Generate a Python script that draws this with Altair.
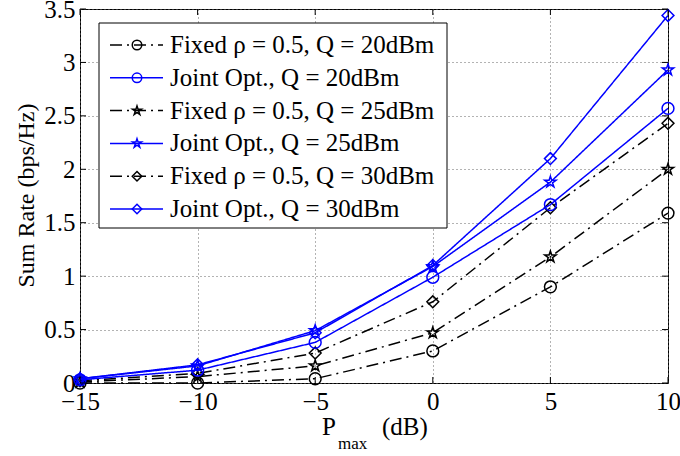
import math
import altair as alt
import pandas as pd

# Transmit power P_max (dB)
p_max = [-15, -10, -5, 0, 5, 10]

# Sum rate (bps/Hz) for each scheme
fixed_q20 = [0.00, 0.00, 0.04, 0.30, 0.90, 1.59]
joint_q20 = [0.03, 0.12, 0.38, 0.99, 1.67, 2.57]
fixed_q25 = [0.01, 0.06, 0.16, 0.47, 1.18, 2.00]
joint_q25 = [0.04, 0.16, 0.49, 1.09, 1.88, 2.93]
fixed_q30 = [0.02, 0.09, 0.28, 0.76, 1.64, 2.43]
joint_q30 = [0.04, 0.17, 0.47, 1.10, 2.10, 3.44]

series_names = [
    "Fixed ρ = 0.5, Q = 20dBm",
    "Joint Opt., Q = 20dBm",
    "Fixed ρ = 0.5, Q = 25dBm",
    "Joint Opt., Q = 25dBm",
    "Fixed ρ = 0.5, Q = 30dBm",
    "Joint Opt., Q = 30dBm",
]
series_values = [fixed_q20, joint_q20, fixed_q25, joint_q25, fixed_q30, joint_q30]
series_kind = ["fixed", "joint", "fixed", "joint", "fixed", "joint"]

x_ticks = [-15, -10, -5, 0, 5, 10]
y_ticks = [0, 0.5, 1, 1.5, 2, 2.5, 3, 3.5]

# five-pointed star as an SVG path in the unit square
star_pts = []
for k in range(10):
    r = 1.0 if k % 2 == 0 else 0.38
    a = math.radians(-90 + 36 * k)
    star_pts.append(f"{r * math.cos(a):.3f},{r * math.sin(a):.3f}")
STAR = "M" + "L".join(star_pts) + "Z"

BLUE = "#0000ff"
BLACK = "#000000"
DASHDOT = [12, 5, 2, 5]
SOLID = [1, 0]
FONT = "Liberation Serif"

colors = [BLACK, BLUE, BLACK, BLUE, BLACK, BLUE]
dashes = [DASHDOT, SOLID, DASHDOT, SOLID, DASHDOT, SOLID]
shapes = ["circle", "circle", STAR, STAR, "diamond", "diamond"]

rows = []
for name, vals, kind in zip(series_names, series_values, series_kind):
    for p, v in zip(p_max, vals):
        rows.append({"P": p, "rate": v, "series": name, "kind": kind})
df = pd.DataFrame(rows)

W, H = 588, 374

axis_common = dict(
    format="~g", labelFont=FONT, labelFontSize=25, labelColor=BLACK,
    labelFlush=False, labelOverlap=False, labelBound=False,
    ticks=False, domain=False,
    grid=True, gridDash=[1, 3], gridColor="#666666", gridWidth=1,
)

x_enc = alt.X(
    "P:Q",
    scale=alt.Scale(domain=[-15, 10], nice=False),
    axis=alt.Axis(values=x_ticks, title=None, labelPadding=6, **axis_common),
)
y_enc = alt.Y(
    "rate:Q",
    scale=alt.Scale(domain=[0, 3.5], nice=False),
    axis=alt.Axis(
        values=y_ticks, labelPadding=5,
        title="Sum Rate (bps/Hz)", titleFont=FONT, titleFontSize=24,
        titleFontWeight="normal", titleColor=BLACK, titleAngle=270,
        titleX=-47, titleY=186, titleAlign="center", titleBaseline="alphabetic",
        **axis_common,
    ),
)
color_enc = alt.Color("series:N", scale=alt.Scale(domain=series_names, range=colors), legend=None)
dash_enc = alt.StrokeDash("series:N", scale=alt.Scale(domain=series_names, range=dashes), legend=None)
shape_enc = alt.Shape("series:N", scale=alt.Scale(domain=series_names, range=shapes), legend=None)


def curves(kind):
    base = alt.Chart(df).transform_filter(alt.datum.kind == kind)
    lines = base.mark_line(strokeWidth=1.5).encode(
        x=x_enc, y=y_enc, color=color_enc, strokeDash=dash_enc, detail="series:N"
    )
    pts = base.mark_point(filled=False, size=140, strokeWidth=1.5, opacity=1).encode(
        x="P:Q", y="rate:Q", color=color_enc, shape=shape_enc
    )
    return lines + pts


# inward tick marks on all four sides of the box
xt = pd.DataFrame({"P": x_ticks})
yt = pd.DataFrame({"rate": y_ticks})
tick_style = dict(color=BLACK, strokeWidth=1)
ticks = (
    alt.Chart(xt).mark_rule(**tick_style).encode(x="P:Q", y=alt.value(H), y2=alt.value(H - 6))
    + alt.Chart(xt).mark_rule(**tick_style).encode(x="P:Q", y=alt.value(0), y2=alt.value(6))
    + alt.Chart(yt).mark_rule(**tick_style).encode(y="rate:Q", x=alt.value(0), x2=alt.value(6))
    + alt.Chart(yt).mark_rule(**tick_style).encode(y="rate:Q", x=alt.value(W), x2=alt.value(W - 6))
)

# legend box in the upper left
leg = pd.DataFrame({"series": series_names, "row": list(range(len(series_names)))})
leg_top, leg_step = 36, 32.8
box = alt.Chart(pd.DataFrame({"a": [0]})).mark_rect(
    fill="white", stroke=BLACK, strokeWidth=1
).encode(x=alt.value(19), x2=alt.value(367), y=alt.value(14), y2=alt.value(219))

leg_base = alt.Chart(leg).transform_calculate(py=f"{leg_top} + datum.row * {leg_step}")
leg_lines = leg_base.mark_rule(strokeWidth=1.5).encode(
    x=alt.value(30), x2=alt.value(83), y=alt.Y("py:Q", scale=None),
    color=color_enc, strokeDash=dash_enc,
)
leg_pts = leg_base.mark_point(filled=False, size=90, strokeWidth=1.5, opacity=1).encode(
    x=alt.value(57), y=alt.Y("py:Q", scale=None), color=color_enc, shape=shape_enc
)
leg_text = leg_base.mark_text(
    align="left", baseline="middle", font=FONT, fontSize=25, color=BLACK
).encode(x=alt.value(90), y=alt.Y("py:Q", scale=None), text="series:N")

# x-axis title with subscript
t_style = dict(font=FONT, color=BLACK, align="left", baseline="alphabetic")
one = pd.DataFrame({"a": [0]})
xt_p = alt.Chart(one).mark_text(text="P", fontSize=25, **t_style).encode(x=alt.value(242), y=alt.value(426))
xt_sub = alt.Chart(one).mark_text(text="max", fontSize=17, **t_style).encode(x=alt.value(258), y=alt.value(440))
xt_db = alt.Chart(one).mark_text(text="(dB)", fontSize=25, **t_style).encode(x=alt.value(302), y=alt.value(426))

chart = alt.layer(
    curves("fixed"), curves("joint"), ticks,
    box, leg_lines, leg_pts, leg_text,
    xt_p, xt_sub, xt_db,
).properties(
    width=W, height=H,
    autosize=alt.AutoSizeParams(type="none"),
    padding={"left": 80, "top": 9, "right": 12, "bottom": 73},
    background="white",
).configure_view(stroke=BLACK, strokeWidth=1)

chart.save("out.html", embed_options={"renderer": "svg", "actions": False})
